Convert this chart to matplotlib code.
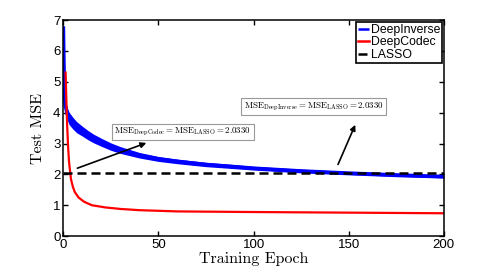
import matplotlib
matplotlib.use("Agg")
import matplotlib.pyplot as plt

plt.rcParams['mathtext.fontset'] = 'cm'

# Data
blue_x = [0, 0.3, 0.6, 1, 2, 3, 5, 7, 10, 13, 16, 20, 25, 30, 40, 50, 60, 75, 90, 100, 125, 150, 175, 200]
blue_y = [6.8, 5.6, 4.6, 4.25, 3.97, 3.82, 3.66, 3.53, 3.4, 3.27, 3.16, 3.04, 2.9, 2.79, 2.62, 2.5, 2.42, 2.32, 2.25, 2.2, 2.11, 2.04, 1.98, 1.93]
blue_spread = [0.02, 0.05, 0.1, 0.15, 0.2, 0.2, 0.19, 0.18, 0.16, 0.15, 0.14, 0.13, 0.12, 0.11, 0.09, 0.08, 0.075, 0.07, 0.065, 0.06, 0.06, 0.055, 0.055, 0.05]

red_x = [1.2, 1.5, 2, 2.5, 3, 4, 5, 6, 8, 11, 15, 22, 30, 40, 60, 80, 100, 125, 150, 175, 200]
red_y = [5.3, 4.6, 3.6, 2.9, 2.4, 1.85, 1.6, 1.43, 1.25, 1.11, 1.0, 0.93, 0.88, 0.84, 0.8, 0.79, 0.78, 0.77, 0.76, 0.75, 0.74]

lasso_value = 2.033

labels = ['DeepInverse', 'DeepCodec', 'LASSO']
ann_texts = [r'$\mathrm{MSE}_{\mathrm{DeepCodec}}=\mathrm{MSE}_{\mathrm{LASSO}}=2.0330$',
             r'$\mathrm{MSE}_{\mathrm{DeepInverse}}=\mathrm{MSE}_{\mathrm{LASSO}}=2.0330$']

fig = plt.figure(figsize=(4.91, 2.72), dpi=100)
ax = fig.add_axes([0.129, 0.132, 0.775, 0.794])

lower = [y - s for y, s in zip(blue_y, blue_spread)]
upper = [y + s for y, s in zip(blue_y, blue_spread)]
ax.fill_between(blue_x, lower, upper, color='#0000ff', lw=0)
ax.plot(blue_x, blue_y, color='#0000ff', lw=2.6, label=labels[0], solid_capstyle='butt')
ax.plot(red_x, red_y, color='#ff0000', lw=1.6, label=labels[1])
ax.plot([0, 200], [lasso_value, lasso_value], color='black', lw=1.8,
        dashes=(3.6, 2.0), label=labels[2])

ax.set_xlim(0, 200)
ax.set_ylim(0, 7)
ax.set_xticks([0, 50, 100, 150, 200])
ax.set_yticks(range(0, 8))
ax.tick_params(direction='in', length=3.5, width=1.0, top=True, right=True,
               labelsize=9.5, pad=2)
for lab in ax.get_xticklabels() + ax.get_yticklabels():
    lab.set_fontfamily('Liberation Sans')
for sp in ax.spines.values():
    sp.set_linewidth(1.1)

ax.set_xlabel('Training Epoch', fontfamily='cmr10', fontsize=11.5, labelpad=1)
ax.set_ylabel('Test MSE', fontfamily='cmr10', fontsize=11.5, labelpad=6)

bbox = dict(boxstyle='square,pad=0.25', fc='white', ec='#999999', lw=0.8)
ax.text(62.8, 3.37, ann_texts[0], fontsize=6.4, ha='center', va='center', bbox=bbox)
ax.text(131.5, 4.2, ann_texts[1], fontsize=6.4, ha='center', va='center', bbox=bbox)

ax.annotate('', xy=(45, 3.05), xytext=(6, 2.17),
            arrowprops=dict(arrowstyle='-|>', color='black', lw=1.2, mutation_scale=8))
ax.annotate('', xy=(154, 3.69), xytext=(143.8, 2.24),
            arrowprops=dict(arrowstyle='-|>', color='black', lw=1.2, mutation_scale=8))

leg = ax.legend(loc='upper right', prop={'family': 'Liberation Sans', 'size': 8.8},
                handlelength=0.9, handletextpad=0.15, borderpad=0.15, labelspacing=0.05,
                borderaxespad=0.15, fancybox=False, framealpha=1, edgecolor='black')
leg.get_frame().set_linewidth(1.2)
for h in leg.get_lines():
    h.set_linewidth(1.8)

fig.savefig('out.png', dpi=100)
